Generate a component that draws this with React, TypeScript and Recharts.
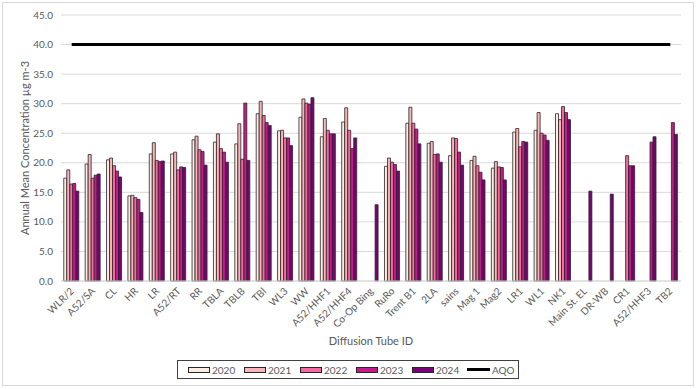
import { Bar, CartesianGrid, ComposedChart, Line, XAxis, YAxis } from "recharts";

const tubes = [
  "WLR/2", "A52/SA", "CL", "HR", "LR", "A52/RT", "RR", "TBLA", "TBLB", "TBI",
  "WL3", "WW", "A52/HHF1", "A52/HHF4", "Co-Op Bing", "RuRo", "Trent B1", "2LA",
  "sains", "Mag 1", "Mag2", "LR1", "WL1", "NK1", "Main St. EL", "DR-WB", "CR1",
  "A52/HHF3", "TB2",
];

const y2020 = [17.4, 19.8, 20.5, 14.4, 21.5, 21.5, 23.9, 23.5, 23.2, 28.3, 25.4, 27.7, 24.4, 26.9, null, 19.4, 26.7, 23.3, 21.2, 20.4, 19.1, 25.2, 25.5, 28.3, null, null, null, null, null];
const y2021 = [18.8, 21.4, 20.8, 14.5, 23.4, 21.8, 24.5, 24.9, 26.6, 30.4, 25.5, 30.8, 27.5, 29.3, null, 20.8, 29.4, 23.6, 24.2, 21.1, 20.2, 25.8, 28.5, 27.3, null, null, null, null, null];
const y2022 = [16.4, 17.4, 19.5, 14.1, 20.4, 18.8, 22.2, 22.4, 20.6, 28.0, 24.2, 30.1, 25.5, 25.5, null, 20.1, 26.7, 21.4, 24.1, 19.5, 19.3, 22.7, 25.0, 29.5, null, null, 21.2, null, null];
const y2023 = [16.5, 17.9, 18.6, 13.8, 20.2, 19.3, 21.9, 21.8, 30.1, 26.8, 24.2, 29.9, 24.9, 22.4, null, 19.7, 25.7, 21.5, 21.8, 18.4, 19.2, 23.6, 24.7, 28.5, null, null, 19.5, 23.5, 26.8];
const y2024 = [15.2, 18.1, 17.6, 11.6, 20.3, 19.2, 19.6, 20.1, 20.4, 26.3, 22.9, 31.0, 24.9, 24.2, 12.9, 18.6, 23.2, 20.1, 19.6, 17.1, 17.1, 23.5, 23.8, 27.3, 15.2, 14.7, 19.5, 24.4, 24.8];
const aqo = 40;

const yTicks = [0, 5, 10, 15, 20, 25, 30, 35, 40, 45];

const years = [
  { key: "2020", values: y2020, color: "#feebe2" },
  { key: "2021", values: y2021, color: "#fbb4b9" },
  { key: "2022", values: y2022, color: "#f768a1" },
  { key: "2023", values: y2023, color: "#c51b8a" },
  { key: "2024", values: y2024, color: "#7a0177" },
];

const data = tubes.map((name, i) => {
  const row: Record<string, string | number | null> = { name, AQO: aqo };
  years.forEach((y) => {
    row[y.key] = y.values[i];
  });
  return row;
});

const font = "Lato, 'Open Sans', sans-serif";

function TubeTick({ x, y, payload }: any) {
  return (
    <g transform={`translate(${x},${y})`}>
      <text
        x={0}
        y={0}
        dy={4}
        textAnchor="end"
        transform="rotate(-45)"
        fill="#595959"
        fontSize={10}
        fontFamily={font}
      >
        {payload.value}
      </text>
    </g>
  );
}

export default function App() {
  return (
    <div style={{ position: "absolute", left: 0, top: 0, width: 696, height: 389, background: "#fff", fontFamily: font }}>
      <div
        style={{
          position: "absolute",
          left: 2,
          top: 2,
          width: 690,
          height: 382,
          border: "1px solid #d9d9d9",
        }}
      />
      <div style={{ position: "absolute", left: 0, top: 0 }}>
        <ComposedChart
          width={696}
          height={389}
          data={data}
          margin={{ top: 15, right: 15, bottom: 48, left: 0 }}
          barCategoryGap="13%"
          barGap={0}
        >
          <CartesianGrid vertical={false} stroke="#d9d9d9" strokeDasharray="0" />
          <XAxis
            dataKey="name"
            height={60}
            interval={0}
            tickLine={false}
            axisLine={{ stroke: "#d9d9d9" }}
            tick={<TubeTick />}
          />
          <YAxis
            width={61}
            domain={[0, 45]}
            ticks={yTicks}
            tickFormatter={(v: number) => v.toFixed(1)}
            axisLine={false}
            tickLine={false}
            tick={{ fill: "#595959", fontSize: 10, fontFamily: font }}
          />
          {years.map((y) => (
            <Bar
              key={y.key}
              dataKey={y.key}
              fill={y.color}
              stroke="#262626"
              strokeWidth={0.8}
              isAnimationActive={false}
            />
          ))}
          <Line
            dataKey="AQO"
            type="linear"
            stroke="#000000"
            strokeWidth={3}
            dot={false}
            isAnimationActive={false}
          />
        </ComposedChart>
      </div>
      <div
        style={{
          position: "absolute",
          left: 24,
          top: 148,
          transform: "translate(-50%, -50%) rotate(-90deg)",
          whiteSpace: "nowrap",
          fontSize: 11,
          color: "#595959",
        }}
      >
        Annual Mean Concentration µg m-3
      </div>
      <div
        style={{
          position: "absolute",
          left: 371,
          top: 340,
          transform: "translate(-50%, -50%)",
          whiteSpace: "nowrap",
          fontSize: 11,
          color: "#595959",
        }}
      >
        Diffusion Tube ID
      </div>
      <div
        style={{
          position: "absolute",
          left: 177,
          top: 360,
          width: 342,
          height: 19,
          border: "1px solid #404040",
          boxSizing: "border-box",
          fontSize: 10,
          color: "#595959",
        }}
      >
        {years.map((y, i) => (
          <span
            key={y.key}
            style={{ position: "absolute", left: 10 + i * 56, top: 0, height: 17, display: "flex", alignItems: "center" }}
          >
            <span
              style={{
                width: 22,
                height: 6,
                boxSizing: "border-box",
                background: y.color,
                border: "1px solid #262626",
                marginRight: 2,
              }}
            />
            {y.key}
          </span>
        ))}
        <span style={{ position: "absolute", left: 10 + 5 * 56 - 1, top: 0, height: 17, display: "flex", alignItems: "center" }}>
          <span style={{ width: 23, height: 3, background: "#000", marginRight: 2 }} />
          AQO
        </span>
      </div>
    </div>
  );
}
